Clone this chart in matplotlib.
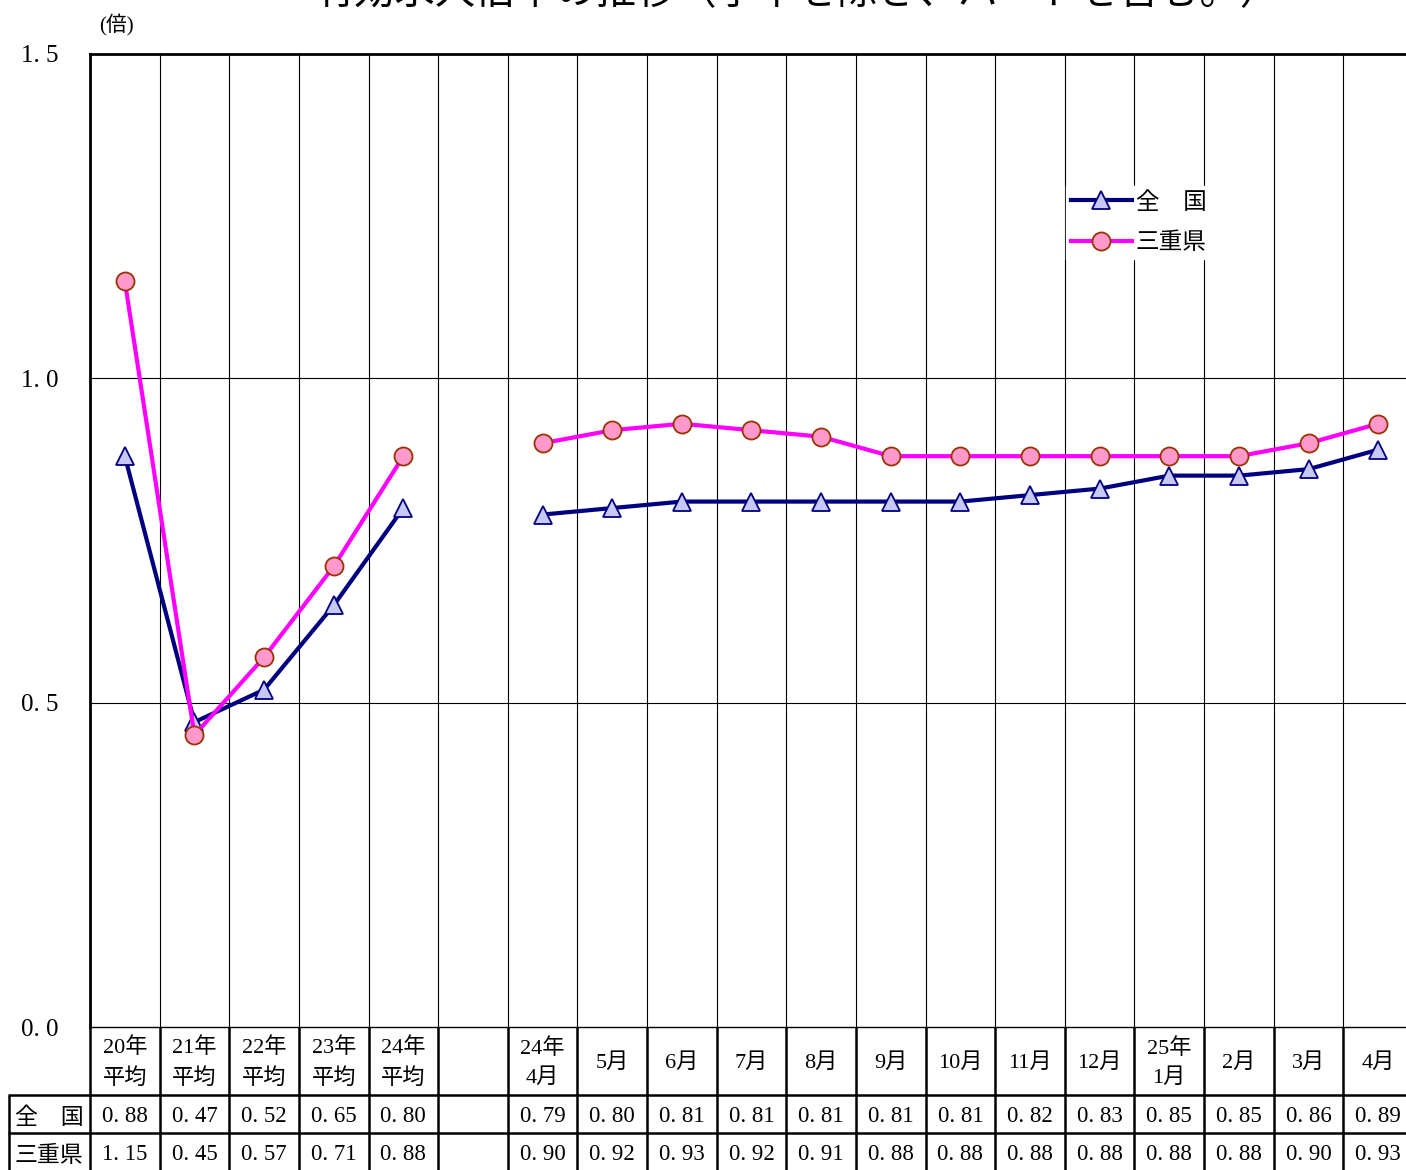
import matplotlib
matplotlib.use("Agg")
import matplotlib.pyplot as plt
import numpy as np

plt.rcParams['font.family'] = ['Liberation Serif', 'Noto Sans CJK JP', 'DejaVu Sans']

title = "有効求人倍率の推移（学卒を除き、パートを含む。）"
categories = ["20年\n平均", "21年\n平均", "22年\n平均", "23年\n平均", "24年\n平均", "",
              "24年\n4月", "5月", "6月", "7月", "8月", "9月", "10月", "11月", "12月",
              "25年\n1月", "2月", "3月", "4月"]
series_names = ["全　国", "三重県"]
zenkoku_annual = [0.88, 0.47, 0.52, 0.65, 0.80]
zenkoku_monthly = [0.79, 0.80, 0.81, 0.81, 0.81, 0.81, 0.81, 0.82, 0.83, 0.85, 0.85, 0.86, 0.89]
mie_annual = [1.15, 0.45, 0.57, 0.71, 0.88]
mie_monthly = [0.90, 0.92, 0.93, 0.92, 0.91, 0.88, 0.88, 0.88, 0.88, 0.88, 0.88, 0.90, 0.93]
yticks = [0.0, 0.5, 1.0, 1.5]
ytick_labels = ["0. 0", "0. 5", "1. 0", "1. 5"]
unit_label = "(倍)"

W, H = 1406, 1170
fig = plt.figure(figsize=(W / 100, H / 100), dpi=100)

def px_axes(x0, y0, x1, y1):
    return fig.add_axes([x0 / W, 1 - y1 / H, (x1 - x0) / W, (y1 - y0) / H])

ncol = len(categories)
plot_left, plot_right = 90, 1413
colw = (plot_right - plot_left) / ncol
ax = px_axes(plot_left, 54, plot_right, 1027)
ax.set_xlim(-0.5, ncol - 0.5)
ax.set_ylim(0, 1.5)

annual_x = np.arange(len(zenkoku_annual))
monthly_x = np.arange(len(zenkoku_monthly)) + len(zenkoku_annual) + 1

navy = "#000080"
tri_face = "#C8C8F5"
mag = "#FF00FF"
pink = "#FF99CC"
brown = "#993300"

for xs, ys, lab in [(annual_x, zenkoku_annual, series_names[0]), (monthly_x, zenkoku_monthly, None)]:
    ax.plot(xs, ys, color=navy, lw=3.0, marker="^", ms=13, mfc=tri_face, mec=navy, mew=1.3,
            label=lab, zorder=4)
for xs, ys, lab in [(annual_x, mie_annual, series_names[1]), (monthly_x, mie_monthly, None)]:
    ax.plot(xs, ys, color=mag, lw=3.0, marker="o", ms=13, mfc=pink, mec=brown, mew=1.3,
            label=lab, zorder=5)

# grid
for i in range(1, ncol):
    ax.axvline(i - 0.5, color="black", lw=0.8, zorder=1)
for y in [0.5, 1.0]:
    ax.axhline(y, color="black", lw=0.8, zorder=1)

ax.set_yticks(yticks)
ax.set_yticklabels(ytick_labels, fontsize=18)
ax.tick_params(axis="y", length=0, pad=23)
ax.set_xticks([])
for s in ["top", "left"]:
    ax.spines[s].set_linewidth(2.0)
ax.spines["bottom"].set_linewidth(1.0)
ax.spines["right"].set_visible(False)

leg = ax.legend(loc="upper left", bbox_to_anchor=((1066 - plot_left) / (plot_right - plot_left),
                                                  1 - (186 - 54) / 973),
                prop={"family": ["Noto Sans CJK JP"], "size": 17}, frameon=True, fancybox=False,
                handlelength=2.6, handletextpad=0.15, borderpad=0.2, labelspacing=0.75,
                borderaxespad=0)
leg.get_frame().set_edgecolor("white")
leg.get_frame().set_facecolor("white")
leg.get_frame().set_alpha(1.0)
leg.set_zorder(10)

fig.text(116 / W, 1 - 25 / H, unit_label, fontsize=15, ha="center", va="center")
fig.text(797 / W, 1 + 6 / H, title, fontsize=29, ha="center", va="center")

# data table
label_left = 8
tx0 = -0.5 - (plot_left - label_left) / colw
tab = px_axes(label_left, 1027, plot_right, 1171)
tab.set_xlim(tx0, ncol - 0.5)
tab.set_ylim(144, 0)
tab.axis("off")

r_head, r1, r2 = 68, 106, 144
lw_t = 1.8
tab.hlines([r_head, r1], tx0, ncol - 0.5, color="black", lw=lw_t, clip_on=False)
tab.vlines([i - 0.5 for i in range(ncol + 1)], 0, 144, color="black", lw=lw_t, clip_on=False)
tab.vlines([tx0 + 0.02], r_head, 144, color="black", lw=lw_t, clip_on=False)

for i, c in enumerate(categories):
    tab.text(i, r_head / 2 + 2, c, ha="center", va="center", fontsize=16, linespacing=1.6)

rows = [zenkoku_annual + [None] + zenkoku_monthly, mie_annual + [None] + mie_monthly]
centers = [(r_head + r1) / 2 + 3, (r1 + r2) / 2 + 3]
for name, vals, yc in zip(series_names, rows, centers):
    tab.text((tx0 - 0.5) / 2, yc, name, ha="center", va="center", fontsize=16.5,
             family=["Noto Sans CJK JP"])
    for i, v in enumerate(vals):
        if v is not None:
            s = f"{v:.2f}".replace(".", ". ")
            tab.text(i, yc, s, ha="center", va="center", fontsize=16.5)

fig.savefig("out.png", dpi=100)
